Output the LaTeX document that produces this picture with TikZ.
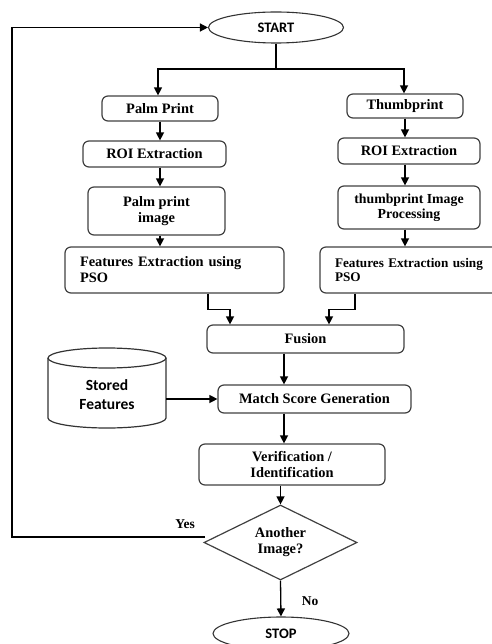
\documentclass[tikz,border=0pt]{standalone}
\usepackage{fontspec}
\setmainfont{Liberation Serif}
\newfontfamily\cali{Carlito}
\usetikzlibrary{arrows.meta,shapes.geometric,calc}
\begin{document}
\begin{tikzpicture}[x=1pt,y=-1pt,
  box/.style={draw=black!75,line width=1.2pt,rounded corners=6pt,inner sep=0pt,
    font=\fontsize{14.4}{16}\selectfont\bfseries,align=center},
  oval/.style={draw=black!80,line width=1.1pt,ellipse,inner sep=0pt,
    font=\cali\fontsize{14.5}{16}\selectfont\bfseries},
  arr/.style={line width=1.3pt,-{Triangle[length=8pt,width=8pt]}},
  ln/.style={line width=1.3pt},
  lbl/.style={inner sep=0pt,font=\fontsize{13.5}{15}\selectfont\bfseries}]
\useasboundingbox (0,0) rectangle (491,644);

% start / stop
\node[oval,minimum width=135pt,minimum height=31pt] (start) at (276,27.5) {START};
\node[oval,minimum width=136pt,minimum height=33pt] (stop) at (281,633.5) {STOP};

% left column
\node[box,minimum width=116pt,minimum height=25pt] (palm) at (160,108.5) {Palm Print};
\node[box,minimum width=143pt,minimum height=26pt] (roiL) at (154.5,154) {ROI Extraction};
\node[box,minimum width=137pt,minimum height=48pt] (pimg) at (156.5,211) {Palm print\\image};
\node[box,align=left,text width=189pt,inner xsep=15pt,minimum height=46pt] (feL) at (174.5,270) {Features Extraction using\\PSO};

% right column
\node[box,minimum width=116pt,minimum height=24pt] (thumb) at (405,106) {Thumbprint};
\node[box,minimum width=142pt,minimum height=26pt] (roiR) at (409,151) {ROI Extraction};
\node[box,minimum width=142pt,minimum height=43pt,font=\fontsize{13.8}{14.5}\selectfont\bfseries] (tip) at (409,207.5) {thumbprint Image\\Processing};
\node[box,align=left,text width=160pt,inner xsep=15pt,minimum height=46pt,font=\fontsize{13.2}{14}\selectfont\bfseries] (feR) at (415,270) {Features Extraction using\\PSO};

% middle
\node[box,minimum width=197pt,minimum height=28pt] (fusion) at (305.5,339) {Fusion};
\node[box,minimum width=193pt,minimum height=28pt] (match) at (314.5,399) {Match Score Generation};
\node[box,minimum width=186pt,minimum height=41pt,font=\fontsize{14.4}{15.5}\selectfont\bfseries] (verif) at (292,464.5) {Verification /\\Identification};
\node[draw=black!75,line width=1.2pt,diamond,aspect=2,inner sep=0pt,minimum width=153pt,minimum height=75pt,
  align=center,font=\fontsize{14.4}{16}\selectfont\bfseries] (dia) at (280.5,542.5) {Another\\Image?};

% stored features cylinder
\draw[draw=black!80,line width=1.2pt] (48,358) -- (48,418) arc[start angle=180,end angle=360,x radius=59pt,y radius=10pt] -- (166,358);
\draw[draw=black!80,line width=1.2pt] (107,358) ellipse[x radius=59pt,y radius=10pt];
\node[minimum width=118pt,minimum height=60pt,inner sep=0pt,align=center,
  font=\cali\fontsize{15.5}{19}\selectfont\bfseries] (stored) at (107,395) {Stored\\Features};

% labels
\node[lbl] (yes) at (185,524) {Yes};
\node[lbl] (no) at (310,601) {No};

% coordinates
\coordinate (split) at (276,69);
\coordinate (loopx) at (12,0);
\coordinate (yesstart) at (205,537);
\coordinate (col) at (284,0);

% connectors
\draw[ln] (start.south) -- (split);
\draw[arr] (split) -| ([xshift=-2pt]palm.north);
\draw[arr] (split) -| ([xshift=-1pt]thumb.north);
\draw[arr] (palm.south) -- (palm.south |- roiL.north);
\draw[arr] (roiL.south -| palm.south) -- (pimg.north -| palm.south);
\draw[arr] (pimg.south -| palm.south) -- (feL.north -| palm.south);
\draw[arr] (thumb.south) -- (thumb.south |- roiR.north);
\draw[arr] (roiR.south -| thumb.south) -- (tip.north -| thumb.south);
\draw[arr] (tip.south -| thumb.south) -- (feR.north -| thumb.south);
\draw[arr] ([xshift=33.5pt]feL.south) -- ++(0,16) -| ([xshift=-75.5pt]fusion.north);
\draw[arr] ([xshift=-60pt]feR.south) -- ++(0,16) -| ([xshift=23.5pt]fusion.north);
\draw[arr] (fusion.south -| col) -- (match.north -| col);
\draw[arr] (match.west -| stored.east) -- (match.west);
\draw[arr] (match.south -| col) -- (verif.north -| col);
\draw[arr] (verif.south -| dia.north) -- (dia.north);
\draw[arr] (dia.south) -- (stop.north);
\draw[arr] (yesstart) -- (yesstart -| loopx) |- (start.west);
\end{tikzpicture}
\end{document}
